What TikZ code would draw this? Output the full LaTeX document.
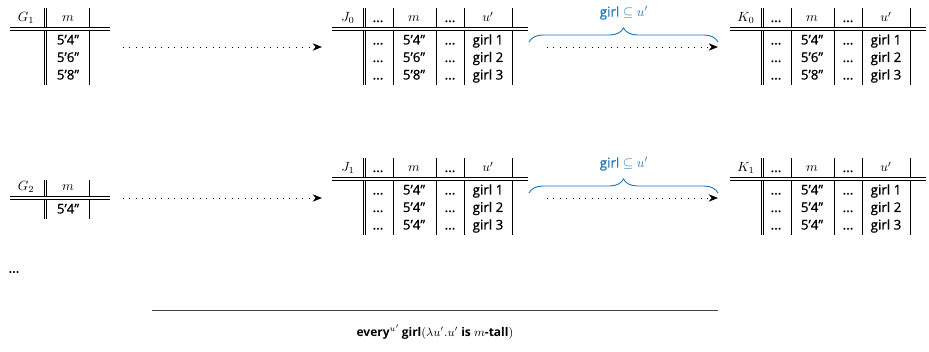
\documentclass[tikz,border=0pt]{standalone}
\usepackage[no-math]{fontspec}
\setmainfont{Open Sans}
\newfontface\semib{Open Sans}[FakeBold=0.8]
\usetikzlibrary{arrows.meta,decorations.pathreplacing}
\definecolor{braceblue}{RGB}{36,120,186}

\begin{document}
\begin{tikzpicture}[x=0.75pt, y=-0.75pt, >={Stealth[length=7pt,width=5.5pt]},
  bar/.style={line width=0.5pt},
  hrule/.style={line width=0.45pt, double, double distance=1.4pt},
  cell/.style={inner sep=0pt, anchor=base, font=\normalsize\semib},
  dotarrow/.style={->, line width=0.7pt, dash pattern=on 0.7pt off 4.1pt},
  bluebrace/.style={braceblue, line width=0.7pt, decorate,
    decoration={brace, amplitude=10.5pt}},
  bracelabel/.style={braceblue, inner sep=0pt, font=\normalsize\semib}]
  \useasboundingbox (0,0) rectangle (929,352);

  % G_1 table
  \begin{scope}[shift={(10,29)}]
    \draw[bar] (34,-21) -- (34,56) (36.5,-21) -- (36.5,56);
    \draw[bar] (79,-21) -- (79,56);
    \draw[hrule] (0,0) -- (100,0);
    \node[cell] (G1) at (16,-7) {$G_1$};
    \node[cell] (G1m) at (58,-7) {$m$};
    \foreach \h [count=\i] in {5’4”,5’6”,5’8”}
      \node[cell] (G1r\i) at (58,15.5+17.5*\i-17.5) {\h};
  \end{scope}

  % G_2 table
  \begin{scope}[shift={(10,198)}]
    \draw[bar] (34,-18) -- (34,21) (36.5,-18) -- (36.5,21);
    \draw[bar] (79,-18) -- (79,21);
    \draw[hrule] (0,0) -- (100,0);
    \node[cell] (G2) at (16,-7) {$G_2$};
    \node[cell] (G2m) at (58,-7) {$m$};
    \node[cell] (G2r1) at (58,15.5) {5’4”};
  \end{scope}

  % J and K tables
  \foreach \t/\sub/\x/\y/\hb/\hc in {J/0/332/29/5’6”/5’8”, K/0/730/29/5’6”/5’8”,
                                    J/1/332/179/5’4”/5’4”, K/1/730/179/5’4”/5’4”} {
    \begin{scope}[shift={(\x,\y)}]
      \draw[bar] (31,-21) -- (31,56) (33.5,-21) -- (33.5,56);
      \foreach \c in {61,104,132,180}
        \draw[bar] (\c,-21) -- (\c,56);
      \draw[hrule] (0,0) -- (196,0);
      \node[cell] (\t\sub) at (16,-7) {$\t_\sub$};
      \node[cell] (\t\sub d1) at (46,-7) {...};
      \node[cell] (\t\sub m) at (82,-7) {$m$};
      \node[cell] (\t\sub d2) at (118,-7) {...};
      \node[cell] (\t\sub u) at (156,-7) {$u'$};
      \foreach \h [count=\i] in {5’4”,\hb,\hc} {
        \node[cell] (\t\sub a\i) at (46,15.5+17.5*\i-17.5) {...};
        \node[cell] (\t\sub m\i) at (82,15.5+17.5*\i-17.5) {\h};
        \node[cell] (\t\sub b\i) at (118,15.5+17.5*\i-17.5) {...};
        \node[cell] (\t\sub u\i) at (156,15.5+17.5*\i-17.5) {girl \i};
      }
    \end{scope}
  }

  % arrows and braces
  \foreach \r/\y in {0/47, 1/198} {
    \coordinate (gs\r) at (123,\y);
    \coordinate (ge\r) at (322,\y);
    \coordinate (js\r) at (547,\y);
    \coordinate (je\r) at (718,\y);
    \draw[dotarrow] (gs\r) -- (ge\r);
    \draw[dotarrow] (js\r) -- (je\r);
    \coordinate (bl\r) at (529,\y-5);
    \coordinate (br\r) at (718,\y-5);
    \draw[bluebrace] (bl\r) -- (br\r);
    \node[bracelabel] (lab\r) at (624,\y-34) {girl $\subseteq u'$};
  }

  \node[inner sep=0pt, font=\normalsize\semib] (more) at (14,272) {...};

  \coordinate (ls) at (152,311);
  \coordinate (le) at (718,311);
  \draw[line width=0.75pt, black!75] (ls) -- (le);
  \node[inner sep=0pt, font=\small\bfseries] (concl) at (435,332)
    {every$^{u'}$\,girl$(\lambda u'.u'$ is $m$-tall$)$};
\end{tikzpicture}
\end{document}
